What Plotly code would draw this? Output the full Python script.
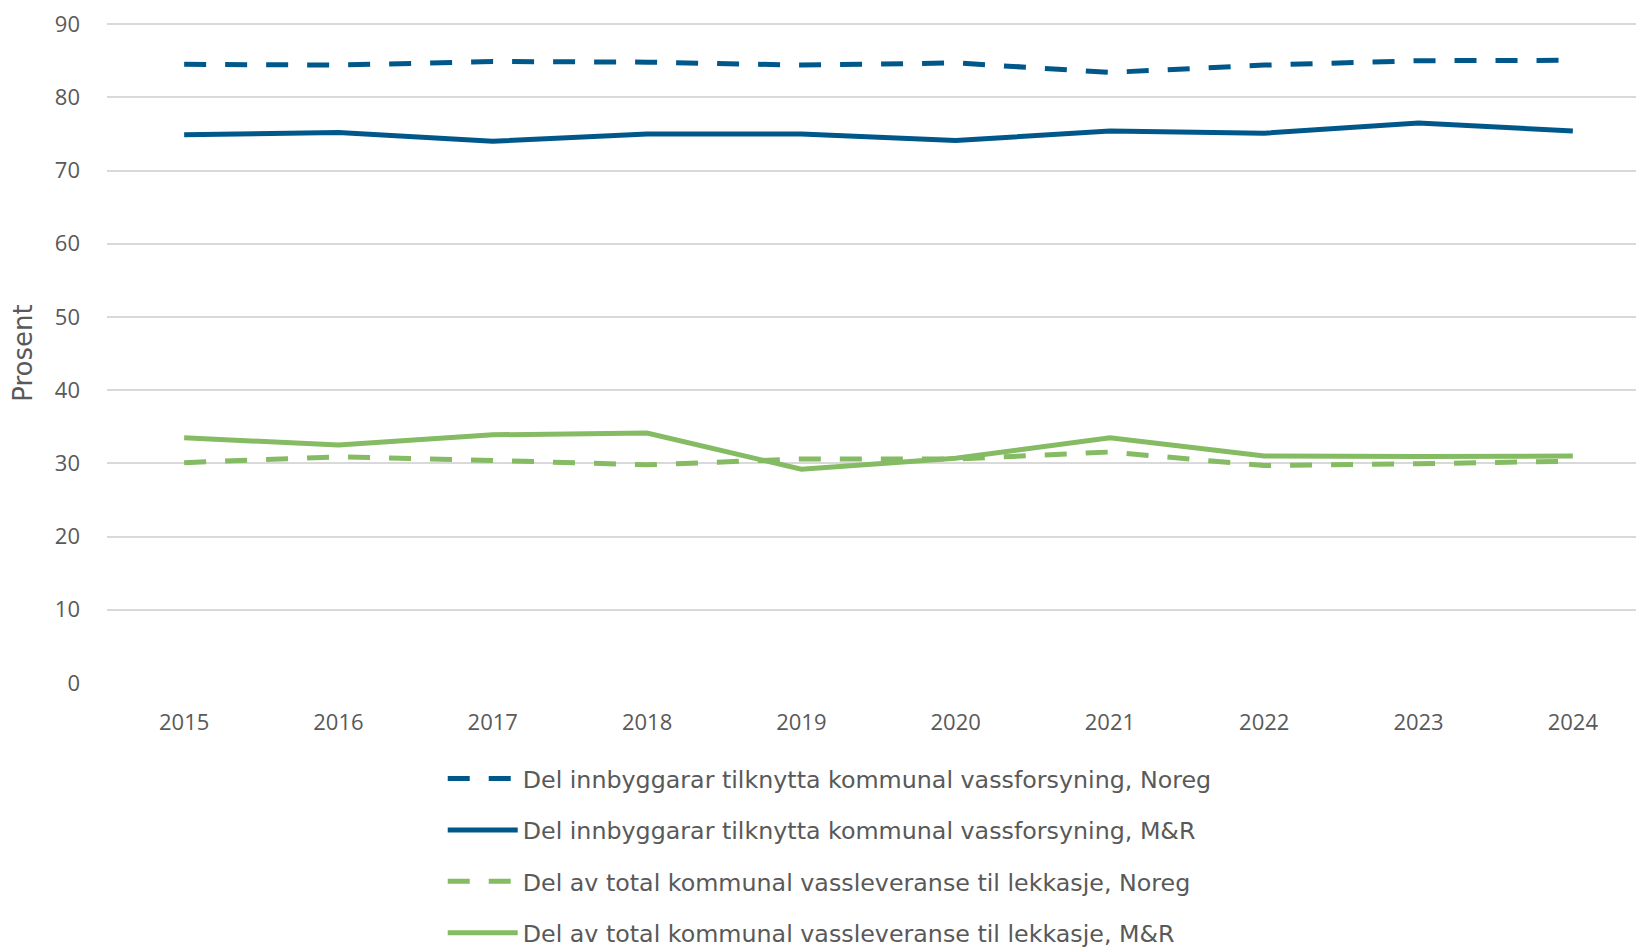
import plotly.graph_objects as go

years = ["2015", "2016", "2017", "2018", "2019", "2020", "2021", "2022", "2023", "2024"]
innb_noreg = [84.5, 84.4, 84.9, 84.8, 84.4, 84.7, 83.4, 84.4, 85.0, 85.05]
innb_mr = [74.9, 75.2, 74.0, 75.0, 75.0, 74.1, 75.4, 75.1, 76.5, 75.4]
lekk_noreg = [30.1, 30.9, 30.4, 29.8, 30.6, 30.6, 31.55, 29.7, 29.95, 30.3]
lekk_mr = [33.5, 32.5, 33.9, 34.15, 29.2, 30.7, 33.5, 31.0, 30.95, 31.0]

names = [
    "Del innbyggarar tilknytta kommunal vassforsyning, Noreg",
    "Del innbyggarar tilknytta kommunal vassforsyning, M&R",
    "Del av total kommunal vassleveranse til lekkasje, Noreg",
    "Del av total kommunal vassleveranse til lekkasje, M&R",
]
yticks = [0, 10, 20, 30, 40, 50, 60, 70, 80, 90]

navy = "#00588A"
green = "#84BB63"
dash = "22px,19px"

fig = go.Figure()
series = [
    (innb_noreg, navy, dash),
    (innb_mr, navy, "solid"),
    (lekk_noreg, green, dash),
    (lekk_mr, green, "solid"),
]
for i, (vals, col, d) in enumerate(series):
    fig.add_trace(go.Scatter(
        x=years, y=vals, mode="lines", name=names[i],
        line=dict(color=col, width=5, dash=d),
        legendgroup=f"g{i}",
    ))

fig.update_layout(
    width=1644, height=947,
    margin=dict(l=99, r=0, t=15, b=272, autoexpand=False),
    plot_bgcolor="white", paper_bgcolor="white",
    font=dict(family="Open Sans", size=22, color="#595959"),
    showlegend=True,
    legend=dict(
        orientation="v", x=0.2173, xanchor="left",
        yref="container", y=0.2095, yanchor="top",
        itemwidth=70, tracegroupgap=17.5, traceorder="grouped",
        font=dict(family="DejaVu Sans", size=23.75, color="#595959"),
        bgcolor="rgba(0,0,0,0)",
    ),
)
fig.update_xaxes(
    type="category", range=[-0.5, 9.513], showgrid=False, zeroline=False,
    showline=False, ticks="", ticklabelstandoff=24, automargin=False,
    ticklabeloverflow="allow",
    tickfont=dict(size=22, color="#595959"),
)
fig.update_yaxes(
    range=[0, 90.15], tickvals=yticks, showgrid=True, gridcolor="#D9D9D9",
    gridwidth=1.5, zeroline=False, showline=False, ticks="",
    ticklabelstandoff=26, automargin=False, ticklabeloverflow="allow",
    tickfont=dict(size=22, color="#595959"),
    title=dict(text="Prosent", font=dict(family="DejaVu Sans", size=26, color="#595959"),
               standoff=18),
)

fig.write_html("out.html")
